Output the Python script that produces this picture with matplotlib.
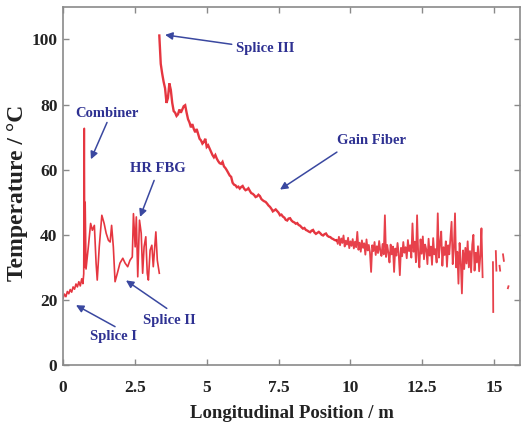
import numpy as np
import matplotlib
matplotlib.use("Agg")
import matplotlib.pyplot as plt

# input fiber section: splice I, combiner, HR FBG, splice II
seg_a_x = [0.00, 0.05, 0.10, 0.15, 0.20, 0.25, 0.30, 0.35, 0.40, 0.45, 0.50, 0.55, 0.60, 0.65, 0.69, 0.72,
           0.74, 0.755, 0.77, 0.80, 0.88, 0.96, 1.02, 1.09, 1.15, 1.19, 1.26, 1.35, 1.43, 1.50,
           1.58, 1.64, 1.69, 1.75, 1.81, 1.89, 1.98, 2.08, 2.16, 2.25, 2.33, 2.41, 2.45, 2.51, 2.55,
           2.60, 2.66, 2.72, 2.77, 2.82, 2.88, 2.93, 2.97, 3.03, 3.09, 3.14, 3.23, 3.28, 3.35]
seg_a_y = [20.5, 21.8, 21.0, 22.6, 21.9, 23.2, 22.4, 24.0, 23.3, 24.9, 24.0, 25.6, 24.3, 26.5, 25.0, 28.0,
           72.7, 30.0, 50.0, 29.5, 36.3, 43.5, 41.4, 42.9, 31.3, 26.1, 36.3, 46.0, 43.5, 40.5,
           38.3, 37.8, 42.9, 36.3, 25.6, 28.2, 31.3, 32.8, 31.3, 30.2, 32.2, 33.2, 46.5, 36.3, 45.5,
           27.1, 44.5, 40.5, 28.2, 36.3, 39.4, 28.2, 26.1, 35.3, 36.8, 30.2, 40.9, 32.2, 28.2]

# gain fiber, smooth part (3.35 m .. 9.50 m, ~0.05 m spacing)
gain_y = [101.2, 92.5, 89.5, 87.0, 85.0, 80.5, 82.0, 86.5, 84.5, 80.5, 78.0, 77.5, 76.5, 77.0,
          78.5, 77.5, 78.5, 79.5, 79.8, 77.5, 75.5, 74.5, 73.0, 74.0, 72.5, 71.5, 72.5, 71.0,
          69.5, 69.0, 68.0, 68.5, 69.5, 67.0, 67.5, 66.5, 65.5, 64.5, 63.8, 64.5, 63.4, 62.6,
          62.0, 61.8, 62.4, 61.0, 60.5, 59.8, 59.0, 58.2, 57.8, 56.0, 55.4, 55.2, 54.6, 54.8,
          54.2, 54.7, 55.0, 54.2, 53.7, 53.9, 54.3, 53.5, 52.8, 52.6, 52.2, 51.6, 51.8, 52.3,
          51.9, 51.0, 50.6, 50.3, 50.1, 49.6, 49.0, 48.6, 48.0, 47.2, 47.5, 47.8, 47.3, 46.8,
          46.0, 46.2, 45.6, 45.3, 44.6, 44.4, 45.0, 45.1, 44.4, 44.0, 43.8, 43.4, 43.6, 43.0,
          42.8, 42.3, 41.9, 42.1, 41.5, 41.3, 41.0, 40.8, 41.3, 41.5, 40.7, 40.3, 40.6, 40.9,
          40.5, 40.0, 39.8, 40.2, 40.4, 39.7, 39.4, 39.3, 38.9, 38.7, 38.4, 38.3]

# gain fiber, noisy part (9.52 m .. 14.60 m, 0.04 m spacing)
noisy_y = [38.5, 37.2, 39.4, 36.8, 38.9, 37.5, 39.8, 36.4, 38.2, 37.0, 39.1, 35.9, 38.0, 36.6, 38.7, 35.8,
           37.9, 36.2, 40.9, 35.4, 37.6, 34.8, 38.3, 36.0, 37.4, 33.9, 38.6, 35.2, 36.9, 34.6, 28.6, 36.8,
           35.0, 37.8, 33.8, 36.5, 34.4, 38.1, 35.1, 33.5, 37.2, 34.0, 46.0, 33.2, 36.9, 34.5, 31.5, 37.0,
           34.0, 36.4, 28.6, 35.8, 33.6, 37.5, 34.2, 27.6, 36.0, 33.4, 37.8, 34.5, 36.2, 32.8, 38.4, 35.0,
           36.8, 33.0, 43.5, 34.8, 37.9, 31.6, 46.0, 33.8, 30.0, 38.6, 34.2, 39.5, 32.5, 37.0, 35.5, 31.0,
           38.8, 33.6, 36.4, 30.8, 39.0, 34.0, 35.6, 31.5, 46.6, 33.0, 37.4, 41.0, 30.5, 36.2, 33.8, 38.0,
           30.2, 36.8, 34.0, 39.2, 44.0, 31.0, 35.5, 46.6, 30.0, 34.8, 25.0, 37.5, 31.8, 22.0, 35.2, 29.5,
           36.0, 31.2, 38.0, 30.0, 35.0, 28.5, 37.0, 40.0, 29.0, 34.5, 31.5, 36.5, 28.8, 33.5, 42.0, 27.0]

# broken fragments at the fiber end
tail_x = [14.96, 14.97, np.nan, 15.06, 15.08, np.nan, 15.19, 15.21, np.nan, 15.31, 15.34, np.nan, 15.48, 15.50]
tail_y = [31.6, 16.3, np.nan, 35.0, 29.0, np.nan, 30.5, 29.0, np.nan, 34.0, 32.0, np.nan, 23.6, 24.2]

# label, text position, arrow tail, arrow tip
notes = [
    ("Combiner", (1.53, 77.3), (1.53, 74.5), (0.97, 63.2)),
    ("HR FBG", (3.31, 60.4), (3.17, 56.7), (2.68, 45.5)),
    ("Splice III", (7.03, 97.3), (5.87, 98.5), (3.55, 101.4)),
    ("Gain Fiber", (10.75, 69.0), (9.53, 65.4), (7.55, 53.9)),
    ("Splice I", (1.74, 8.7), (1.81, 11.8), (0.45, 18.4)),
    ("Splice II", (3.69, 13.8), (3.61, 17.4), (2.19, 26.0)),
]

plt.rcParams["font.family"] = "serif"
plt.rcParams["font.serif"] = ["Liberation Serif", "DejaVu Serif"]
plt.rcParams["font.weight"] = "bold"

fig = plt.figure(figsize=(5.21, 4.29), dpi=100)
ax = fig.add_axes([0.121, 0.149, 0.877, 0.835])

red = "#e3202b"
gain_x = np.linspace(3.35, 9.50, len(gain_y))
noisy_x = np.linspace(9.52, 14.60, len(noisy_y))
ax.plot(seg_a_x, seg_a_y, color=red, lw=1.2, alpha=0.9)
ax.plot(gain_x, gain_y, color=red, lw=1.7, alpha=0.9, solid_joinstyle="miter")
ax.plot(np.concatenate([gain_x[-1:], noisy_x]), np.concatenate([gain_y[-1:], noisy_y]),
        color=red, lw=1.3, alpha=0.85)
ax.plot(tail_x, tail_y, color=red, lw=1.3, alpha=0.85)

blue = "#2e3192"
for label, txt, start, tip in notes:
    ax.text(txt[0], txt[1], label, color=blue, fontsize=10.5, fontweight="bold",
            ha="center", va="center")
    ax.annotate("", xy=tip, xytext=start,
                arrowprops=dict(arrowstyle="-|>", color="#3a48a0", lw=1.1,
                                mutation_scale=11, shrinkA=0, shrinkB=0))

ax.set_xlim(0, 15.9)
ax.set_ylim(0, 110)
ax.set_xticks([0, 2.5, 5, 7.5, 10, 12.5, 15])
ax.set_xticklabels(["0", "2.5", "5", "7.5", "10", "12.5", "15"])
ax.set_yticks([0, 20, 40, 60, 80, 100])

for sp in ax.spines.values():
    sp.set_color("#8a8a8a")
    sp.set_linewidth(1.2)
ax.tick_params(direction="in", length=4, width=1, colors="#8a8a8a", labelcolor="#222222",
               labelsize=12.5, top=True, right=True)
ax.tick_params(axis="x", pad=11)
ax.tick_params(axis="y", pad=4)

ax.set_xlabel("Longitudinal Position / m", fontsize=13.5, fontweight="bold", color="#222222",
              labelpad=6)
ax.set_ylabel("Temperature / \u00b0C", fontsize=17, fontweight="bold", color="#222222")
ax.yaxis.set_label_coords(-0.076, 0.48)

fig.savefig("out.png", dpi=100)
